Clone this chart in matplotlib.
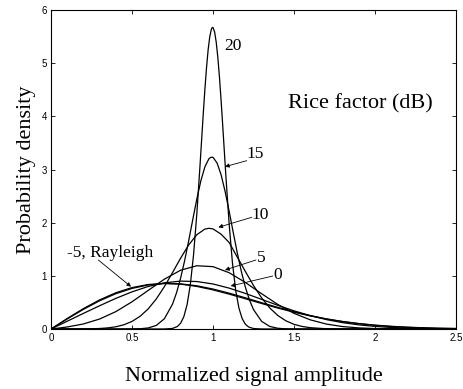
import matplotlib
matplotlib.use('Agg')
import matplotlib.pyplot as plt

# Rice amplitude densities
amp = [0.0, 0.1, 0.2, 0.3, 0.4, 0.5, 0.6, 0.7, 0.8, 0.9, 1.0, 1.1, 1.2, 1.3,
       1.4, 1.5, 1.6, 1.7, 1.8, 1.9, 2.0, 2.1, 2.2, 2.3, 2.4, 2.5]

rayleigh = [0, 0.198, 0.384, 0.548, 0.682, 0.779, 0.837, 0.858, 0.844, 0.801, 0.736, 0.656,
            0.569, 0.480, 0.394, 0.316, 0.247, 0.189, 0.141, 0.103, 0.073, 0.051, 0.035,
            0.023, 0.015, 0.010]
pdf_m5 = [0, 0.190, 0.370, 0.531, 0.664, 0.764, 0.828, 0.856, 0.849, 0.813, 0.752, 0.674,
          0.587, 0.495, 0.407, 0.325, 0.252, 0.190, 0.140, 0.100, 0.069, 0.047, 0.031,
          0.020, 0.012, 0.008]
pdf_0 = [0, 0.147, 0.294, 0.438, 0.576, 0.699, 0.800, 0.869, 0.901, 0.893, 0.847, 0.769,
         0.669, 0.558, 0.446, 0.342, 0.252, 0.177, 0.120, 0.078, 0.049, 0.029, 0.017,
         0.009, 0.005, 0.002]
pdf_5 = [0, 0.038, 0.095, 0.188, 0.327, 0.512, 0.726, 0.938, 1.106, 1.190, 1.173, 1.058,
         0.875, 0.664, 0.462, 0.295, 0.173, 0.093, 0.046, 0.021, 0.009, 0.003, 0.001,
         0.000, 0.000, 0.000]

amp_10 = [0, 0.10, 0.15, 0.20, 0.25, 0.30, 0.35, 0.40, 0.45, 0.50, 0.55, 0.60, 0.65, 0.70,
          0.75, 0.80, 0.85, 0.90, 0.95, 0.975, 1.00, 1.05, 1.10, 1.15, 1.20, 1.25, 1.30,
          1.35, 1.40, 1.45, 1.50, 1.55, 1.60, 1.70, 1.80, 1.90, 2.00, 2.50]
pdf_10 = [0, 0.000, 0.001, 0.002, 0.004, 0.010, 0.021, 0.042, 0.080, 0.143, 0.240, 0.379,
          0.566, 0.798, 1.061, 1.333, 1.582, 1.774, 1.880, 1.894, 1.883, 1.783, 1.626,
          1.351, 1.081, 0.818, 0.586, 0.397, 0.254, 0.154, 0.088, 0.048, 0.025, 0.005,
          0.001, 0.000, 0.000, 0]

amp_15 = [0, 0.40, 0.50, 0.55, 0.60, 0.65, 0.70, 0.75, 0.775, 0.80, 0.825, 0.85, 0.875,
          0.90, 0.925, 0.95, 0.975, 0.9875, 1.00, 1.025, 1.05, 1.075, 1.10, 1.125, 1.15,
          1.175, 1.20, 1.225, 1.25, 1.30, 1.35, 1.40, 1.45, 1.50, 1.60, 2.50]
pdf_15 = [0, 0.000, 0.001, 0.005, 0.020, 0.068, 0.194, 0.468, 0.684, 0.958, 1.289, 1.663,
          2.058, 2.445, 2.788, 3.051, 3.204, 3.230, 3.229, 3.123, 2.899, 2.583, 2.209,
          1.813, 1.428, 1.080, 0.784, 0.546, 0.365, 0.144, 0.049, 0.014, 0.003, 0.001,
          0.000, 0]

amp_20 = [0, 0.70, 0.75, 0.78, 0.80, 0.82, 0.84, 0.86, 0.88, 0.90, 0.92, 0.94, 0.95, 0.96,
          0.97, 0.98, 0.99, 0.995, 1.00, 1.01, 1.02, 1.03, 1.04, 1.05, 1.06, 1.08, 1.10,
          1.12, 1.14, 1.16, 1.18, 1.20, 1.22, 1.25, 1.30, 2.50]
pdf_20 = [0, 0.001, 0.011, 0.047, 0.109, 0.233, 0.460, 0.836, 1.401, 2.166, 3.088, 4.059,
          4.514, 4.920, 5.255, 5.500, 5.641, 5.670, 5.670, 5.585, 5.390, 5.099, 4.726,
          4.293, 3.821, 2.849, 1.959, 1.242, 0.726, 0.392, 0.195, 0.089, 0.038, 0.009,
          0.001, 0]

serif = 'Liberation Serif'
sans = 'Liberation Sans'

fig = plt.figure(figsize=(4.63, 3.89), dpi=100)
ax = fig.add_axes([0.1102, 0.1542, 0.8747, 0.8201])

for xs, ys in [(amp, rayleigh), (amp, pdf_m5), (amp, pdf_0), (amp, pdf_5),
               (amp_10, pdf_10), (amp_15, pdf_15), (amp_20, pdf_20)]:
    ax.plot(xs, ys, color='black', lw=0.9)

ax.set_xlim(0, 2.5)
ax.set_ylim(0, 6)
ax.set_xticks([0, 0.5, 1, 1.5, 2, 2.5])
ax.set_xticklabels(['0', '0.5', '1', '1.5', '2', '2.5'])
ax.set_yticks([0, 1, 2, 3, 4, 5, 6])
ax.tick_params(direction='in', length=3, width=0.6, top=True, right=True,
               labelsize=7, pad=3)
for lab in ax.get_xticklabels() + ax.get_yticklabels():
    lab.set_family(sans)
for sp in ax.spines.values():
    sp.set_linewidth(0.8)

ax.set_xlabel('Normalized signal amplitude', family=serif, fontsize=16, labelpad=17)
ax.set_ylabel('Probability density', family=serif, fontsize=16, labelpad=4)

ax.text(1.907, 4.245, 'Rice factor (dB)', family=serif, fontsize=16,
        ha='center', va='center')

# curve labels and pointers
ax.text(1.120, 5.332, '20', family=serif, fontsize=12.5, ha='center', va='center')
labels = [('15', (1.257, 3.286), (1.208, 3.166), (1.074, 3.053)),
          ('10', (1.293, 2.148), (1.239, 2.101), (1.033, 1.913)),
          ('5', (1.295, 1.330), (1.265, 1.298), (1.074, 1.110)),
          ('0', (1.398, 1.016), (1.369, 0.997), (1.109, 0.809)),
          ('-5, Rayleigh', (0.367, 1.439), (0.292, 1.298), (0.494, 0.796))]
for txt, pos, tail, head in labels:
    ax.text(pos[0], pos[1], txt, family=serif, fontsize=12.5, ha='center', va='center')
    ax.annotate('', xy=head, xytext=tail,
                arrowprops=dict(arrowstyle='-|>', color='black', lw=0.6,
                                mutation_scale=6, shrinkA=0, shrinkB=0))

fig.savefig('out.png', dpi=100)
